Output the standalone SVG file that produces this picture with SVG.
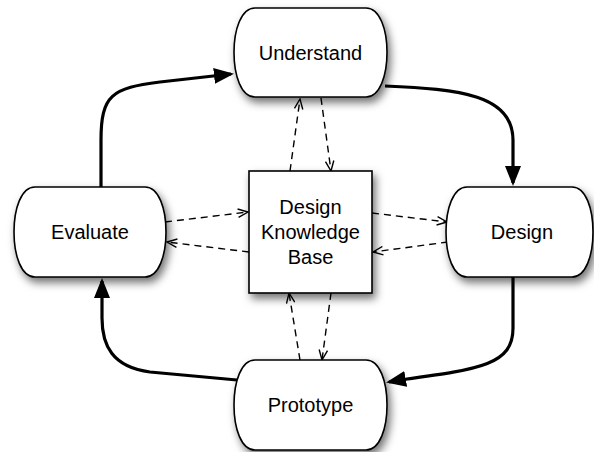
<svg xmlns="http://www.w3.org/2000/svg" width="594" height="452" viewBox="0 0 594 452">
<style>
.node{fill:#fff;stroke:#000;stroke-width:1.6;filter:url(#sh)}
.lbl{font-family:"Liberation Sans",Arial,Helvetica,sans-serif;font-size:20px;fill:#000;text-anchor:middle}
.thick{fill:none;stroke:#000;stroke-width:3.2;marker-end:url(#fa)}
.dash{fill:none;stroke:#000;stroke-width:1.4;stroke-dasharray:7,5;marker-end:url(#oa)}
</style>
<defs>
<filter id="sh" x="-20%" y="-20%" width="150%" height="150%">
<feDropShadow dx="3" dy="5" stdDeviation="4" flood-color="#000" flood-opacity="0.55"/>
</filter>
<marker id="fa" viewBox="0 0 20 16" refX="17" refY="8" markerWidth="20" markerHeight="16" markerUnits="userSpaceOnUse" orient="auto">
<path d="M0,0 L20,8 L0,16 Z" fill="#000"/>
</marker>
<marker id="oa" viewBox="0 0 12 10" refX="11" refY="5" markerWidth="12" markerHeight="10" markerUnits="userSpaceOnUse" orient="auto">
<path d="M1,0.8 L11,5 L1,9.2" fill="none" stroke="#000" stroke-width="1.4"/>
</marker>
</defs>
<g id="connectors">
<path class="thick" d="M101,187 L101,140 C101,95 112,88 160,82 L231,74"/>
<path class="thick" d="M385,86 C460,89 513,95 513,140 L513,183"/>
<path class="thick" d="M513,277 L513,328 C513,365 480,369 400,380 L389,382"/>
<path class="thick" d="M237,380 L150,372 C112,367 102,345 102,318 L102,281"/>
<path class="dash" d="M290,171 L300,99"/>
<path class="dash" d="M321,98 L331,171"/>
<path class="dash" d="M300,360 L289,293"/>
<path class="dash" d="M331,293 L322,360"/>
<path class="dash" d="M165,222 L248,212"/>
<path class="dash" d="M249,252 L167,242"/>
<path class="dash" d="M372,213 L447,222"/>
<path class="dash" d="M448,242 L373,252"/>
</g>
<g id="understand">
<path class="node" d="M255,8 H366 C380,8 387,30 387,52.5 C387,75 380,97 366,97 H255 C241,97 234,75 234,52.5 C234,30 241,8 255,8 Z"/>
<text class="lbl" x="310.5" y="59.5">Understand</text>
</g>
<g id="evaluate">
<path class="node" d="M35,187 H145 C159,187 166,209 166,232 C166,255 159,277 145,277 H35 C21,277 14,255 14,232 C14,209 21,187 35,187 Z"/>
<text class="lbl" x="90" y="239">Evaluate</text>
</g>
<g id="design">
<path class="node" d="M467,187 H572 C586,187 593,209 593,232 C593,255 586,277 572,277 H467 C453,277 446,255 446,232 C446,209 453,187 467,187 Z"/>
<text class="lbl" x="522" y="239">Design</text>
</g>
<g id="prototype">
<path class="node" d="M255,360 H366 C380,360 387,382 387,405 C387,428 380,450 366,450 H255 C241,450 234,428 234,405 C234,382 241,360 255,360 Z"/>
<text class="lbl" x="310.5" y="412">Prototype</text>
</g>
<g id="knowledge-base">
<rect class="node" x="249" y="171" width="123" height="122"/>
<text class="lbl" x="310.5" y="214">Design</text>
<text class="lbl" x="310.5" y="239">Knowledge</text>
<text class="lbl" x="310.5" y="264">Base</text>
</g>
</svg>
